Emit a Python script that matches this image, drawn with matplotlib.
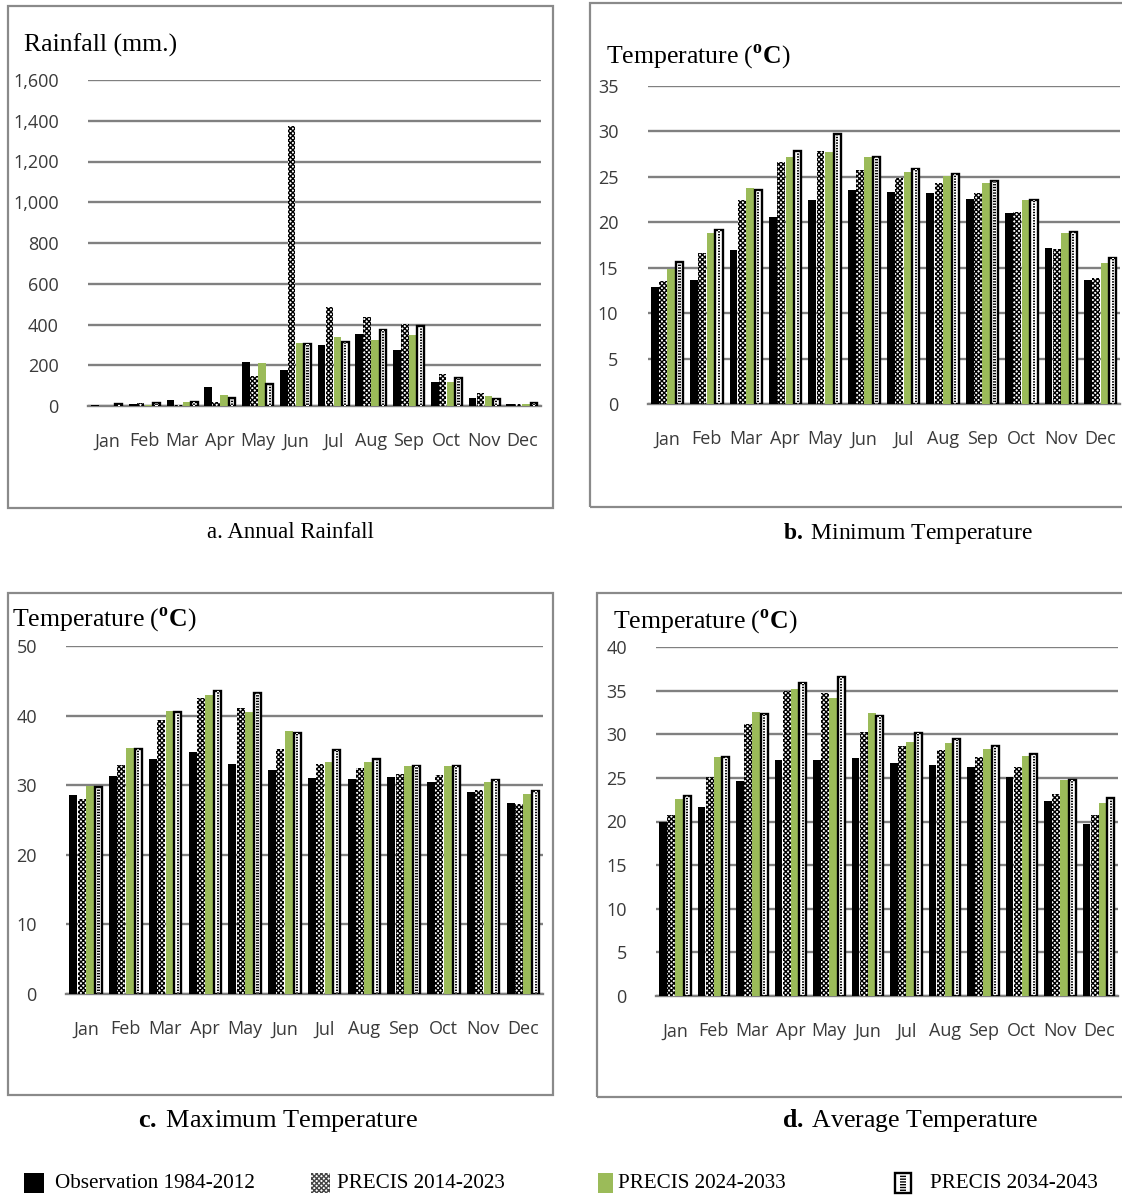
import matplotlib
matplotlib.use("Agg")
import matplotlib.pyplot as plt
from matplotlib.patches import Rectangle
from matplotlib.ticker import StrMethodFormatter
import numpy as np

plt.rcParams['mathtext.fontset'] = 'custom'
plt.rcParams['mathtext.rm'] = 'Liberation Serif'
plt.rcParams['mathtext.bf'] = 'Liberation Serif:bold'
plt.rcParams['hatch.linewidth'] = 1.0

months = ["Jan", "Feb", "Mar", "Apr", "May", "Jun", "Jul", "Aug", "Sep", "Oct", "Nov", "Dec"]
series_names = ["Observation 1984-2012", "PRECIS 2014-2023", "PRECIS 2024-2033", "PRECIS 2034-2043"]

# a. Annual Rainfall (mm)
rain_obs = [6, 11, 29, 95, 218, 177, 300, 354, 275, 120, 41, 10]
rain_p1 = [2, 15, 5, 21, 147, 1373, 485, 439, 403, 156, 62, 8]
rain_p2 = [1, 5, 20, 54, 213, 311, 341, 325, 349, 116, 49, 10]
rain_p3 = [8, 13, 21, 38, 107, 303, 316, 374, 395, 136, 36, 13]

# b. Minimum temperature
tmin_obs = [12.9, 13.7, 16.9, 20.6, 22.4, 23.5, 23.3, 23.2, 22.6, 21.0, 17.2, 13.7]
tmin_p1 = [13.5, 16.6, 22.5, 26.6, 27.8, 25.7, 24.9, 24.3, 23.2, 21.1, 17.1, 13.9]
tmin_p2 = [14.9, 18.8, 23.8, 27.2, 27.7, 27.2, 25.5, 25.1, 24.3, 22.4, 18.8, 15.5]
tmin_p3 = [15.6, 19.1, 23.6, 27.8, 29.7, 27.2, 25.9, 25.3, 24.5, 22.5, 18.9, 16.1]

# c. Maximum temperature
tmax_obs = [28.6, 31.3, 33.7, 34.8, 33.1, 32.2, 31.0, 30.9, 31.2, 30.5, 29.0, 27.4]
tmax_p1 = [28.0, 32.9, 39.4, 42.5, 41.1, 35.2, 33.1, 32.5, 31.6, 31.4, 29.3, 27.3]
tmax_p2 = [29.9, 35.3, 40.7, 42.9, 40.5, 37.8, 33.3, 33.4, 32.7, 32.8, 30.5, 28.8]
tmax_p3 = [29.8, 35.2, 40.5, 43.5, 43.2, 37.5, 35.1, 33.8, 32.8, 32.8, 30.7, 29.2]

# d. Average temperature
tavg_obs = [20.0, 21.7, 24.6, 27.1, 27.1, 27.3, 26.7, 26.5, 26.2, 25.1, 22.4, 19.7]
tavg_p1 = [20.8, 25.1, 31.2, 34.9, 34.7, 30.3, 28.7, 28.2, 27.4, 26.2, 23.2, 20.7]
tavg_p2 = [22.6, 27.4, 32.5, 35.2, 34.1, 32.4, 29.1, 29.0, 28.3, 27.5, 24.7, 22.1]
tavg_p3 = [22.9, 27.4, 32.3, 35.9, 36.6, 32.1, 30.2, 29.4, 28.6, 27.7, 24.7, 22.7]

W, H = 1122, 1195
fig = plt.figure(figsize=(W / 100, H / 100), dpi=100)

GREEN = '#9BBB59'
GRID = '#808080'
FRAME = '#8a8a8a'
TICKC = '#3a3a3a'
SERIF = 'Liberation Serif'
SANS = 'Open Sans'


def fx(px):
    return px / W


def fy(py):
    return 1 - py / H


def add_axes(x0, x1, y0, y1):
    return fig.add_axes([fx(x0), fy(y1), fx(x1 - x0), (y1 - y0) / H])


def frame(x0, x1, y0, y1):
    fig.patches.append(Rectangle((fx(x0), fy(y1)), fx(x1 - x0), (y1 - y0) / H,
                                 transform=fig.transFigure, fill=False,
                                 edgecolor=FRAME, linewidth=1.6, zorder=0))


def draw_panel(ax, data, ymax, step, fmt=None):
    x = np.arange(len(months))
    bw = 0.2
    offs = [-0.315, -0.105, 0.105, 0.315]
    obs, p1, p2, p3 = data
    ax.bar(x + offs[0], obs, bw, color='black', linewidth=0, zorder=3)
    ax.bar(x + offs[1], p1, bw, color='white', edgecolor='black', hatch='xxxxxxx',
           linewidth=0, zorder=3)
    ax.bar(x + offs[2], p2, bw, color=GREEN, linewidth=0, zorder=3)
    ax.bar(x + offs[3], p3, bw * 0.9, color='white', edgecolor='black', linewidth=1.7, zorder=3)
    ax.bar(x + offs[3], p3, bw * 0.28, color='white', edgecolor='black', hatch='------',
           linewidth=0, zorder=4)
    ax.set_xlim(-0.5, len(months) - 0.5)
    ax.set_ylim(0, ymax)
    ax.set_yticks(np.arange(0, ymax + step / 2, step))
    if fmt:
        ax.yaxis.set_major_formatter(StrMethodFormatter(fmt))
    ax.set_xticks(x)
    ax.set_xticklabels(months)
    for s in ['top', 'left', 'right']:
        ax.spines[s].set_visible(False)
    ax.spines['bottom'].set_color(GRID)
    ax.spines['bottom'].set_linewidth(1.7)
    ax.yaxis.grid(True, color=GRID, linewidth=1.7)
    ax.set_axisbelow(True)
    ax.tick_params(axis='both', length=0, labelcolor=TICKC, labelsize=13)
    ax.tick_params(axis='x', pad=19)
    ax.tick_params(axis='y', pad=21)
    for lab in ax.get_xticklabels() + ax.get_yticklabels():
        lab.set_fontfamily(SANS)
    ax.patch.set_alpha(0)


temp_label = r'Temperature ($^{\mathbf{o}}\mathbf{C}$)'
TITLE_FS = 18.5

# Panel a
frame(8, 553, 6, 508)
axa = add_axes(88, 541, 80, 406)
draw_panel(axa, (rain_obs, rain_p1, rain_p2, rain_p3), 1600, 200, '{x:,.0f}')
fig.text(fx(24), fy(45), 'Rainfall (mm.)', family=SERIF, fontsize=TITLE_FS, va='center', ha='left')
fig.text(fx(290), fy(533), 'a. Annual Rainfall', family=SERIF, fontsize=16.5, va='center', ha='center')

# Panel b
frame(590, 1135, 3, 507)
axb = add_axes(647.5, 1120, 86, 404)
draw_panel(axb, (tmin_obs, tmin_p1, tmin_p2, tmin_p3), 35, 5)
fig.text(fx(606), fy(57), temp_label, family=SERIF, fontsize=TITLE_FS, va='center', ha='left')
fig.text(fx(908), fy(533), r'$\mathbf{b.}\,$Minimum Temperature', family=SERIF, fontsize=17,
         va='center', ha='center')

# Panel c
frame(8, 553, 593, 1095)
axc = add_axes(66, 543, 646, 994)
draw_panel(axc, (tmax_obs, tmax_p1, tmax_p2, tmax_p3), 50, 10)
fig.text(fx(12), fy(620), temp_label, family=SERIF, fontsize=TITLE_FS, va='center', ha='left')
fig.text(fx(278), fy(1121), r'$\mathbf{c.}\,$Maximum Temperature', family=SERIF, fontsize=19,
         va='center', ha='center')

# Panel d
frame(597, 1135, 593, 1097)
axd = add_axes(656, 1118, 647, 996)
draw_panel(axd, (tavg_obs, tavg_p1, tavg_p2, tavg_p3), 40, 5)
fig.text(fx(613), fy(622), temp_label, family=SERIF, fontsize=TITLE_FS, va='center', ha='left')
fig.text(fx(910), fy(1121), r'$\mathbf{d.}\,$Average Temperature', family=SERIF, fontsize=18.5,
         va='center', ha='center')

# Legend
leg_y0, leg_y1 = 1173, 1193
leg_items = [
    (24, 44, 55, dict(facecolor='black', edgecolor='black', linewidth=0)),
    (311, 330, 337, dict(facecolor='white', edgecolor='#444444', hatch='xxxxxxx', linewidth=0)),
    (598, 613, 618, dict(facecolor=GREEN, linewidth=0)),
    (895, 911, 930, dict(facecolor='white', edgecolor='black', linewidth=1.7)),
]
for (x0, x1, tx, style), name in zip(leg_items, series_names):
    fig.patches.append(Rectangle((fx(x0), fy(leg_y1)), fx(x1 - x0), (leg_y1 - leg_y0) / H,
                                 transform=fig.transFigure, **style))
    fig.text(fx(tx), fy((leg_y0 + leg_y1) / 2), name, family=SERIF, fontsize=15.2,
             va='center', ha='left')
# inner dashes of the last legend patch
fig.patches.append(Rectangle((fx(900), fy(leg_y1 - 2)), fx(6), (leg_y1 - leg_y0 - 4) / H,
                             transform=fig.transFigure, facecolor='white', edgecolor='black',
                             hatch='------', linewidth=0))

fig.savefig('out.png', dpi=100)
